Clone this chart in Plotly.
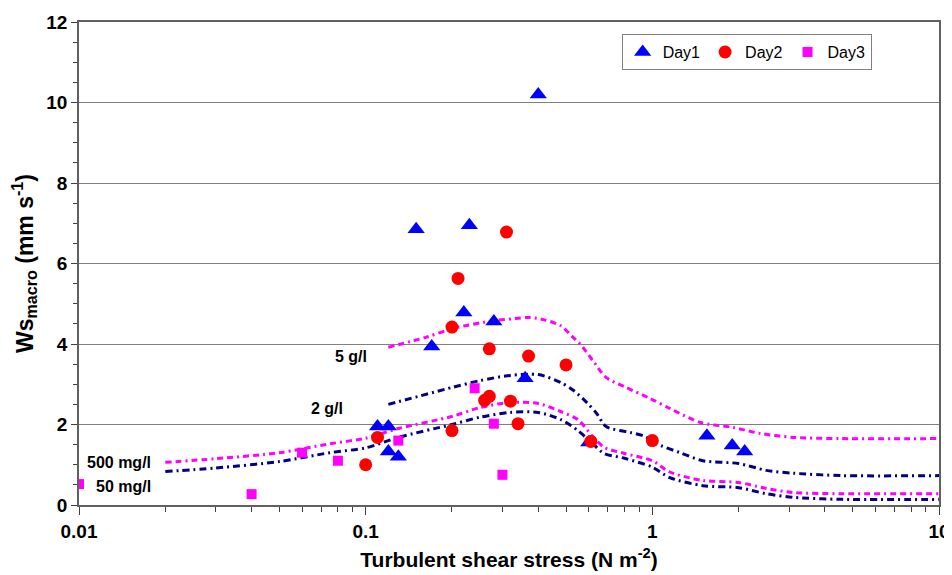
import plotly.graph_objects as go

# ---- data ----
day1_x = [0.40, 0.15, 0.23, 0.22, 0.28, 0.17, 0.36, 0.11, 0.12, 0.12, 0.13, 0.60, 1.55, 1.90, 2.10]
day1_y = [10.2, 6.85, 6.95, 4.78, 4.56, 3.94, 3.15, 1.95, 1.95, 1.33, 1.20, 1.55, 1.72, 1.48, 1.33]

day2_x = [0.31, 0.21, 0.20, 0.27, 0.37, 0.50, 0.27, 0.26, 0.32, 0.34, 0.20, 0.11, 0.10, 0.61, 1.00]
day2_y = [6.78, 5.63, 4.42, 3.88, 3.70, 3.48, 2.70, 2.60, 2.58, 2.02, 1.85, 1.68, 1.00, 1.58, 1.60]

day3_x = [0.01, 0.04, 0.06, 0.08, 0.13, 0.24, 0.28, 0.30]
day3_y = [0.52, 0.27, 1.30, 1.10, 1.60, 2.90, 2.02, 0.75]

low_x = [0.02, 0.03, 0.05, 0.075, 0.1, 0.13, 0.2, 0.25, 0.32, 0.4, 0.48, 0.55, 0.62, 0.68,
         0.8, 1.0, 1.15, 1.5, 2.0, 2.5, 3.1, 4.6, 10]
c500_y = [1.06, 1.15, 1.30, 1.52, 1.66, 1.90, 2.20, 2.42, 2.55, 2.52, 2.32, 2.12, 1.70, 1.43,
          1.28, 1.10, 0.82, 0.61, 0.56, 0.41, 0.31, 0.28, 0.28]
c50_y = [0.83, 0.92, 1.08, 1.30, 1.42, 1.68, 2.00, 2.18, 2.30, 2.30, 2.12, 1.85, 1.52, 1.28,
         1.16, 0.94, 0.68, 0.48, 0.43, 0.28, 0.19, 0.14, 0.14]

c2g_x = [0.12, 0.2, 0.25, 0.32, 0.4, 0.48, 0.53, 0.59, 0.64, 0.69, 0.84, 0.93, 1.07, 1.25,
         1.5, 2.0, 2.5, 3.1, 4.6, 10]
c2g_y = [2.50, 2.92, 3.09, 3.22, 3.24, 3.04, 2.85, 2.55, 2.27, 1.95, 1.80, 1.72, 1.48, 1.30,
         1.10, 1.03, 0.86, 0.79, 0.73, 0.73]

c5g_x = [0.12, 0.163, 0.2, 0.28, 0.33, 0.37, 0.42, 0.48, 0.53, 0.56, 0.62, 0.69, 0.81, 0.98,
         1.15, 1.47, 1.9, 2.37, 3.1, 4.6, 10]
c5g_y = [3.92, 4.17, 4.38, 4.58, 4.63, 4.66, 4.60, 4.45, 4.16, 4.00, 3.59, 3.17, 2.92, 2.65,
         2.40, 2.05, 1.93, 1.78, 1.68, 1.65, 1.65]

curve_labels = ["500 mg/l", "50 mg/l", "2 g/l", "5 g/l"]
ytick_vals = [0, 2, 4, 6, 8, 10, 12]
xtick_vals = [0.01, 0.1, 1, 10]
xtick_text = ["0.01", "0.1", "1", "10"]
xminor_vals = [m * d for d in (0.01, 0.1, 1) for m in range(2, 10)]

MAG = "#FF00FF"
NAVY = "#000080"
DASH_NAVY = "7px,4px,2px,4px"
DASH_MAG = "6px,4px,6px,4px,2px,4px"
FONT = "Liberation Sans, Arial"

fig = go.Figure()

for xs, ys, col, dsh in [(low_x, c50_y, NAVY, DASH_NAVY), (low_x, c500_y, MAG, DASH_MAG),
                         (c2g_x, c2g_y, NAVY, DASH_NAVY), (c5g_x, c5g_y, MAG, DASH_MAG)]:
    fig.add_trace(go.Scatter(x=xs, y=ys, mode="lines", showlegend=False, hoverinfo="skip",
                             line=dict(color=col, width=3, dash=dsh, shape="spline", smoothing=0.8)))

fig.add_trace(go.Scatter(x=day1_x, y=day1_y, mode="markers", name="Day1",
                         marker=dict(symbol="triangle-up", size=15, color="#0000FF")))
fig.add_trace(go.Scatter(x=day2_x, y=day2_y, mode="markers", name="Day2",
                         marker=dict(symbol="circle", size=13, color="#FF0000")))
fig.add_trace(go.Scatter(x=day3_x, y=day3_y, mode="markers", name="Day3",
                         marker=dict(symbol="square", size=10, color=MAG)))

lab_font = dict(family=FONT, size=16, color="black")
label_pos = [(-1.743, 1.06), (-1.743, 0.45), (-1.073, 2.4), (-0.989, 3.7)]
for txt, (lx, ly) in zip(curve_labels, label_pos):
    fig.add_annotation(x=lx, y=ly, xref="x", yref="y", text="<b>%s</b>" % txt,
                       showarrow=False, xanchor="right", yanchor="middle", font=lab_font)

axis_font = dict(family=FONT, size=19, color="black")
# page body adds an 8px offset; margins compensate so the plot area lands at 79..939 x 22..505
fig.update_layout(
    width=952, height=575,
    margin=dict(l=71, r=21, t=14, b=78),
    plot_bgcolor="white", paper_bgcolor="white",
    font=dict(family=FONT, color="black"),
    hovermode=False,
    legend=dict(orientation="h", x=0.631, y=0.975, xanchor="left", yanchor="top",
                bgcolor="white", bordercolor="#808080", borderwidth=1,
                font=dict(size=16, family=FONT), itemwidth=30),
    xaxis=dict(type="log", range=[-2, 1], tickvals=xtick_vals,
               ticktext=["<b>%s</b>" % t for t in xtick_text],
               tickfont=axis_font, ticks="outside", ticklen=8, tickcolor="#404040",
               showline=True, linecolor="#606060", linewidth=1.5, mirror=True,
               showgrid=False, zeroline=False, automargin=False,
               minor=dict(ticks="outside", ticklen=5, tickcolor="#404040",
                          tickvals=xminor_vals, showgrid=False),
               title=dict(text="<b>Turbulent shear stress (N m<sup>-2</sup>)</b>",
                          font=dict(size=21, family=FONT), standoff=12)),
    yaxis=dict(range=[0, 12], tickvals=ytick_vals, ticktext=["<b>%d</b>" % v for v in ytick_vals],
               tickfont=axis_font, ticks="outside", ticklen=6, tickcolor="#404040",
               showline=True, linecolor="#606060", linewidth=1.5, mirror=True,
               showgrid=True, gridcolor="#808080", gridwidth=1.3, zeroline=False,
               automargin=False,
               minor=dict(ticks="outside", ticklen=4, dtick=0.5, tickcolor="#404040", showgrid=False),
               title=dict(text="<b>Ws<sub>macro</sub> (mm s<sup>-1</sup>)</b>",
                          font=dict(size=23, family=FONT), standoff=12)),
)

fig.write_html("out.html")
